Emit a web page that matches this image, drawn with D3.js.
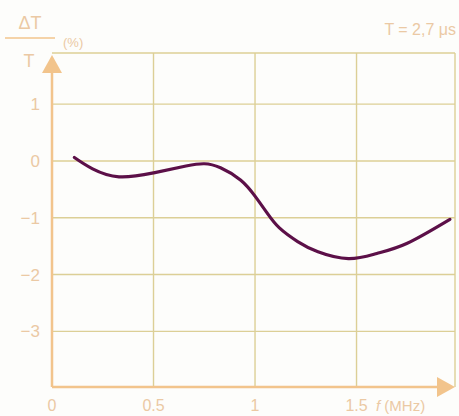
<!DOCTYPE html>
<html>
<head>
<meta charset="utf-8">
<script src="https://cdn.jsdelivr.net/npm/d3@7"></script>
<style>
  body { margin: 0; background: #fdfdfb; }
  text { font-family: 'Liberation Sans', 'DejaVu Sans', sans-serif; }
</style>
</head>
<body>
<script>
// values
const freq = [0.11, 0.2, 0.33, 0.5, 0.66, 0.75, 0.83, 0.93, 1.0, 1.06, 1.12, 1.21, 1.31, 1.46, 1.6, 1.75, 1.96]
const deltaT = [0.06, -0.14, -0.28, -0.21, -0.09, -0.05, -0.12, -0.34, -0.62, -0.92, -1.18, -1.42, -1.6, -1.72, -1.63, -1.45, -1.03]
const xTicks = [0, 0.5, 1, 1.5]
const xTickLabels = ['0', '0.5', '1', '1.5']
const yTicks = [1, 0, -1, -2, -3]
const yTickLabels = ['1', '0', '\u22121', '\u22122', '\u22123']

const width = 459, height = 416
const gridColor = '#dccf96'
const axisColor = '#f2c48c'
const textColor = '#ebc9a4'
const curveColor = '#5c1048'

const x = d3.scaleLinear().domain([0, 1.985]).range([52, 455])
const y = d3.scaleLinear().domain([-3.98, 1.9]).range([387, 53])

const svg = d3.select('body').append('svg')
  .attr('width', width).attr('height', height)

// grid
const grid = svg.append('g').attr('stroke', gridColor).attr('stroke-width', 1.4)
grid.selectAll('line.v').data(xTicks.slice(1).concat([1.985])).join('line')
  .attr('x1', d => x(d)).attr('x2', d => x(d))
  .attr('y1', y(1.9)).attr('y2', y(-3.98))
grid.selectAll('line.h').data(yTicks.concat([1.9])).join('line')
  .attr('x1', x(0)).attr('x2', x(1.985))
  .attr('y1', d => y(d)).attr('y2', d => y(d))

// axes with arrows
const axes = svg.append('g')
axes.append('line').attr('x1', x(0)).attr('x2', x(0))
  .attr('y1', y(-3.98)).attr('y2', 66)
  .attr('stroke', axisColor).attr('stroke-width', 2.5)
axes.append('path').attr('d', 'M52,55 L42,73 L62,73 Z').attr('fill', axisColor)
axes.append('line').attr('x1', x(0)).attr('x2', 445)
  .attr('y1', y(-3.98)).attr('y2', y(-3.98))
  .attr('stroke', axisColor).attr('stroke-width', 2.5)
axes.append('path').attr('d', 'M455,387 L437,377 L437,397 Z').attr('fill', axisColor)

// tick labels
svg.selectAll('text.xt').data(xTicks).join('text')
  .attr('x', d => x(d)).attr('y', 411)
  .attr('text-anchor', 'middle').attr('font-size', 16).attr('fill', textColor)
  .text((d, i) => xTickLabels[i])
svg.selectAll('text.yt').data(yTicks).join('text')
  .attr('x', 40).attr('y', d => y(d) + 6)
  .attr('text-anchor', 'end').attr('font-size', 17).attr('fill', textColor)
  .text((d, i) => yTickLabels[i])

// axis titles
const t = svg.append('g').attr('fill', textColor)
t.append('text').attr('x', 30).attr('y', 29).attr('text-anchor', 'middle')
  .attr('font-size', 18).text('\u0394T')
t.append('line').attr('x1', 5).attr('x2', 55).attr('y1', 38).attr('y2', 38)
  .attr('stroke', axisColor).attr('stroke-width', 1.5)
t.append('text').attr('x', 63).attr('y', 47).attr('font-size', 13).text('(%)')
t.append('text').attr('x', 29).attr('y', 67).attr('text-anchor', 'middle')
  .attr('font-size', 18).text('T')
t.append('text').attr('x', 456).attr('y', 35).attr('text-anchor', 'end')
  .attr('font-size', 16).text('T = 2,7 \u03bcs')
t.append('text').attr('x', 376).attr('y', 411).attr('font-size', 15)
  .html('<tspan font-style="italic">f</tspan>  (MHz)')

// curve
const line = d3.line()
  .x((d, i) => x(freq[i])).y(d => y(d))
  .curve(d3.curveNatural)
svg.append('path').datum(deltaT)
  .attr('d', line)
  .attr('fill', 'none').attr('stroke', curveColor)
  .attr('stroke-width', 3.2).attr('stroke-linecap', 'round')
</script>
</body>
</html>
